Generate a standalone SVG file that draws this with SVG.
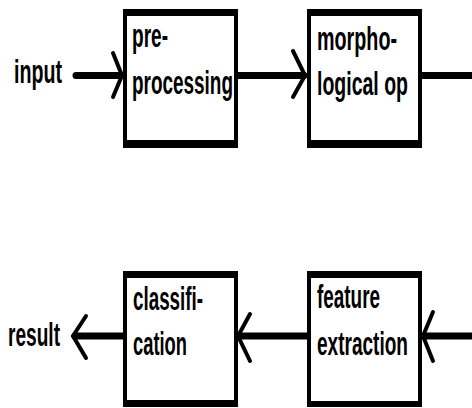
<svg xmlns="http://www.w3.org/2000/svg" width="472" height="408" viewBox="0 0 472 408">
  <style>
    .frame { fill: #000; }
    .face { fill: #fff; }
    .lbl { font-family: "Liberation Sans", Arial, sans-serif; font-weight: bold; font-size: 34px; fill: #000; }
    .wire { stroke: #000; stroke-width: 7; stroke-linecap: round; fill: none; }
    .head { stroke: #000; stroke-width: 4; stroke-linecap: round; stroke-linejoin: miter; fill: none; }
  </style>
  <rect width="472" height="408" fill="#fff"/>

  <!-- connectors -->
  <g id="connectors">
    <!-- input -> pre-processing -->
    <line class="wire" x1="76" y1="75.5" x2="121" y2="75.5"/>
    <path class="head" d="M113 53 L122 75.5 L113 97"/>
    <!-- pre-processing -> morphological op -->
    <line class="wire" x1="238" y1="75.5" x2="304" y2="75.5"/>
    <path class="head" d="M293 51 L305 75.5 L293 97"/>
    <!-- morphological op -> off right edge -->
    <line class="wire" x1="422" y1="75.5" x2="475" y2="75.5"/>
    <!-- from right edge -> feature extraction -->
    <line class="wire" x1="475" y1="336" x2="424" y2="336"/>
    <path class="head" d="M433 312 L423 336 L433 361"/>
    <!-- feature extraction -> classification -->
    <line class="wire" x1="307" y1="336" x2="239" y2="336"/>
    <path class="head" d="M250 314 L238 336 L250 361"/>
    <!-- classification -> result -->
    <line class="wire" x1="123" y1="336" x2="75" y2="336"/>
    <path class="head" d="M86 316 L73 336 L86 358"/>
  </g>

  <g id="input">
    <text class="lbl" x="14" y="83" textLength="48" lengthAdjust="spacingAndGlyphs">input</text>
  </g>

  <g id="preprocessing">
    <rect class="frame" x="123" y="9" width="115" height="139"/>
    <rect class="face" x="127" y="16" width="107" height="124"/>
    <text class="lbl" x="132" y="47" textLength="36" lengthAdjust="spacingAndGlyphs">pre-</text>
    <text class="lbl" x="132" y="94" textLength="101" lengthAdjust="spacingAndGlyphs">processing</text>
  </g>

  <g id="morphological">
    <rect class="frame" x="307" y="9" width="115" height="139"/>
    <rect class="face" x="311" y="16" width="107" height="124"/>
    <text class="lbl" x="317" y="50" textLength="80" lengthAdjust="spacingAndGlyphs">morpho-</text>
    <text class="lbl" x="317" y="95" textLength="91" lengthAdjust="spacingAndGlyphs">logical op</text>
  </g>

  <g id="classification">
    <rect class="frame" x="123" y="271" width="115" height="136"/>
    <rect class="face" x="127" y="278" width="107" height="122"/>
    <text class="lbl" x="133" y="310" textLength="70" lengthAdjust="spacingAndGlyphs">classifi-</text>
    <text class="lbl" x="133" y="355" textLength="54" lengthAdjust="spacingAndGlyphs">cation</text>
  </g>

  <g id="feature">
    <rect class="frame" x="307" y="271" width="115" height="136"/>
    <rect class="face" x="311" y="278" width="107" height="123"/>
    <text class="lbl" x="317" y="308" textLength="63" lengthAdjust="spacingAndGlyphs">feature</text>
    <text class="lbl" x="317" y="355" textLength="91" lengthAdjust="spacingAndGlyphs">extraction</text>
  </g>

  <g id="result">
    <text class="lbl" x="8" y="346" textLength="52" lengthAdjust="spacingAndGlyphs">result</text>
  </g>
</svg>
